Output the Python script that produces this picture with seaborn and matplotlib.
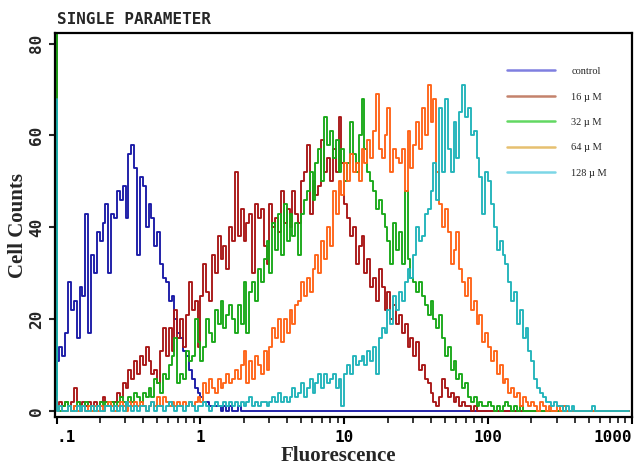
import matplotlib
matplotlib.use("Agg")
import matplotlib.pyplot as plt
from matplotlib.lines import Line2D
from matplotlib.ticker import LogLocator, NullFormatter
from matplotlib.font_manager import FontProperties
import numpy as np
import pandas as pd
import seaborn as sns

# ---------------- data ----------------
sample_names = ["control", "16 \u00b5 M", "32 \u00b5 M", "64 \u00b5 M", "128 \u00b5 M"]
line_colors = ["#1a1aa6", "#a81616", "#18a818", "#ff6418", "#22b4ba"]
legend_colors = ["#7f7fe0", "#c4826c", "#62d862", "#e6c070", "#7cd6e6"]

x_tick_values = [0.1, 1, 10, 100, 1000]
x_tick_labels = [".1", "1", "10", "100", "1000"]
y_tick_values = [0, 20, 40, 60, 80]
y_tick_labels = ["0", "20", "40", "60", "80"]

channels_per_decade = 50
first_channel = 0.1

control_counts = [
    13, 11, 14, 12, 17, 28, 22, 24, 16, 27,
    25, 43, 17, 34, 30, 39, 37, 41, 45, 30,
    43, 42, 48, 46, 49, 42, 56, 58, 53, 34,
    51, 49, 40, 45, 42, 36, 39, 32, 29, 28,
    24, 25, 20, 17, 16, 13, 12, 9, 7, 5,
    4, 3, 2, 2, 1, 1, 1, 1, 0, 1,
    0, 1, 0, 0, 1, 0, 0, 0, 0, 0,
    0, 0, 0, 0, 0, 0, 0, 0, 0, 0,
    0, 0, 0, 0, 0, 0, 0, 0, 0, 0,
    0, 0, 0, 0, 0, 0, 0, 0, 0, 0,
    0, 0, 0, 0, 0, 0, 0, 0, 0, 0,
    0, 0, 0, 0, 0, 0, 0, 0, 0, 0,
    0, 0, 0, 0, 0, 0, 0, 0, 0, 0,
    0, 0, 0, 0, 0, 0, 0, 0, 0, 0,
    0, 0, 0, 0, 0, 0, 0, 0, 0, 0,
    0, 0, 0, 0, 0, 0, 0, 0, 0, 0,
    0, 0, 0, 0, 0, 0, 0, 0, 0, 0,
    0, 0, 0, 0, 0, 0, 0, 0, 0, 0,
    0, 0, 0, 0, 0, 0, 0, 0, 0, 0,
    0, 0, 0, 0, 0, 0, 0, 0, 0, 0,
]

um16_counts = [
    90, 1, 2, 1, 2, 1, 2, 5, 2, 1,
    2, 1, 2, 1, 2, 1, 2, 3, 2, 1,
    2, 2, 4, 3, 6, 5, 9, 7, 11, 8,
    12, 10, 14, 11, 8, 9, 6, 13, 18, 12,
    18, 13, 22, 16, 20, 14, 21, 28, 22, 24,
    14, 25, 32, 26, 24, 34, 30, 38, 33, 36,
    31, 40, 37, 52, 38, 44, 37, 41, 43, 30,
    45, 42, 44, 36, 32, 45, 40, 42, 39, 48,
    41, 44, 40, 48, 43, 41, 50, 52, 58, 43,
    50, 47, 49, 59, 52, 55, 50, 57, 52, 64,
    54, 45, 42, 38, 40, 32, 36, 38, 30, 33,
    27, 29, 24, 31, 27, 22, 26, 20, 23, 19,
    21, 17, 19, 14, 16, 12, 15, 9, 10, 7,
    6, 4, 2, 1, 3, 7, 5, 3, 4, 2,
    3, 1, 2, 1, 1, 0, 1, 0, 0, 0,
    0, 0, 0, 0, 0, 0, 0, 0, 0, 0,
    0, 0, 0, 0, 0, 0, 0, 0, 0, 0,
    0, 0, 0, 0, 0, 0, 0, 0, 0, 0,
    0, 0, 0, 0, 0, 0, 0, 0, 0, 0,
    0, 0, 0, 0, 0, 0, 0, 0, 0, 0,
]

um32_counts = [
    95, 1, 0, 1, 2, 1, 0, 1, 2, 1,
    1, 2, 1, 0, 1, 1, 2, 1, 2, 1,
    2, 1, 2, 3, 2, 1, 3, 2, 4, 3,
    2, 4, 3, 5, 3, 7, 6, 4, 8, 7,
    10, 12, 16, 6, 8, 7, 13, 11, 12, 20,
    15, 11, 14, 20, 17, 15, 22, 19, 24, 18,
    21, 23, 20, 17, 23, 19, 28, 17, 26, 28,
    24, 31, 28, 33, 37, 30, 41, 35, 43, 34,
    45, 37, 43, 38, 41, 34, 43, 46, 48, 52,
    46, 54, 57, 50, 64, 58, 61, 55, 59, 52,
    57, 50, 54, 63, 56, 52, 60, 68, 57, 52,
    50, 48, 44, 46, 43, 40, 37, 32, 41, 35,
    39, 32, 48, 33, 29, 28, 26, 28, 25, 23,
    21, 24, 20, 18, 21, 16, 12, 14, 9, 11,
    7, 8, 5, 6, 3, 2, 3, 1, 2, 1,
    1, 2, 1, 0, 1, 0, 1, 2, 1, 0,
    1, 0, 1, 0, 0, 0, 0, 0, 0, 0,
    0, 0, 0, 0, 0, 0, 0, 0, 0, 0,
    0, 0, 0, 0, 0, 0, 0, 0, 0, 0,
    0, 0, 0, 0, 0, 0, 0, 0, 0, 0,
]

um64_counts = [
    3, 0, 1, 0, 0, 1, 0, 1, 0, 0,
    1, 0, 1, 0, 1, 0, 1, 0, 1, 2,
    1, 0, 1, 2, 1, 0, 2, 1, 2, 1,
    2, 1, 0, 1, 2, 1, 3, 1, 3, 2,
    1, 2, 1, 2, 1, 2, 1, 2, 1, 2,
    3, 2, 6, 4, 7, 5, 4, 7, 5, 6,
    8, 6, 7, 9, 7, 10, 13, 6, 11, 7,
    12, 10, 8, 13, 9, 14, 18, 16, 20, 15,
    20, 17, 22, 19, 23, 24, 28, 25, 29, 26,
    31, 34, 30, 37, 33, 40, 36, 48, 43, 50,
    47, 54, 50, 56, 52, 54, 50, 57, 54, 59,
    55, 61, 69, 57, 55, 60, 66, 52, 57, 55,
    54, 57, 48, 61, 53, 58, 63, 57, 66, 60,
    71, 63, 68, 52, 45, 40, 44, 39, 32, 35,
    39, 31, 28, 25, 29, 22, 24, 19, 21, 15,
    17, 14, 11, 13, 8, 10, 6, 7, 4, 5,
    3, 4, 1, 3, 2, 1, 2, 1, 0, 2,
    1, 0, 1, 0, 0, 1, 0, 1, 0, 0,
    0, 0, 0, 0, 0, 0, 0, 0, 0, 0,
    0, 0, 0, 0, 0, 0, 0, 0, 0, 0,
]

um128_counts = [
    68, 0, 1, 0, 0, 1, 0, 0, 1, 0,
    1, 0, 0, 1, 0, 1, 0, 0, 1, 1,
    0, 1, 0, 1, 0, 2, 1, 0, 1, 0,
    1, 1, 0, 1, 2, 0, 1, 1, 0, 1,
    2, 1, 0, 1, 1, 0, 1, 2, 1, 0,
    1, 1, 2, 1, 0, 1, 2, 1, 1, 2,
    1, 2, 1, 2, 1, 2, 1, 2, 3, 1,
    2, 1, 2, 2, 1, 2, 3, 2, 4, 2,
    3, 2, 3, 5, 3, 4, 6, 3, 5, 7,
    4, 6, 8, 5, 8, 6, 7, 8, 5, 7,
    1, 8, 10, 8, 12, 10, 11, 12, 10, 13,
    11, 14, 8, 16, 18, 17, 22, 19, 25, 22,
    26, 24, 28, 31, 29, 34, 40, 37, 38, 43,
    44, 48, 54, 46, 66, 52, 68, 57, 52, 63,
    55, 65, 71, 64, 66, 60, 61, 55, 51, 43,
    52, 50, 45, 40, 35, 37, 34, 32, 28, 24,
    26, 19, 22, 16, 18, 13, 11, 7, 5, 4,
    3, 2, 2, 1, 2, 1, 1, 0, 1, 0,
    1, 0, 0, 0, 0, 0, 0, 1, 0, 0,
    0, 0, 0, 0, 0, 0, 0, 0, 0, 0,
]

series_counts = [control_counts, um16_counts, um32_counts, um64_counts, um128_counts]

# ---------------- tidy table ----------------
frames = []
for name, counts in zip(sample_names, series_counts):
    n = len(counts)
    fluor = first_channel * 10 ** (np.arange(n) / channels_per_decade)
    frames.append(pd.DataFrame({"Fluorescence": fluor, "Counts": counts, "Sample": name}))
df = pd.concat(frames, ignore_index=True)

# ---------------- figure ----------------
sns.set_style("ticks")
plt.rcParams["font.family"] = ["DejaVu Sans"]

W, H = 634, 466
fig = plt.figure(figsize=(W / 100, H / 100), dpi=100)
ax = fig.add_axes([55 / W, 49 / H, 577 / W, 384 / H])

sns.lineplot(
    data=df, x="Fluorescence", y="Counts", hue="Sample",
    hue_order=sample_names, palette=dict(zip(sample_names, line_colors)),
    estimator=None, sort=False, drawstyle="steps-pre",
    linewidth=1.35, legend=False, ax=ax,
)

ax.set_xscale("log")
ax.set_xlim(0.0976, 1000)
ax.set_ylim(-1.3, 82.3)
ax.set_xlabel("")
ax.set_ylabel("")

mono = FontProperties(family="DejaVu Sans Mono", weight="bold", size=11.5)
ax.set_xticks(x_tick_values)
ax.set_xticklabels(x_tick_labels, fontproperties=mono)
ax.xaxis.set_minor_locator(LogLocator(base=10, subs=range(2, 10), numticks=20))
ax.xaxis.set_minor_formatter(NullFormatter())
xl = ax.get_xticklabels()
xl[0].set_ha("left")
xl[-1].set_ha("right")

ax.set_yticks(y_tick_values)
ax.set_yticklabels(y_tick_labels, fontproperties=mono, rotation=90, va="center")

ax.tick_params(axis="x", which="major", direction="out", length=5, width=1.5,
               pad=4, colors="black", bottom=True, top=False)
ax.tick_params(axis="x", which="minor", direction="out", length=4, width=1.3,
               bottom=True, top=False)
ax.tick_params(axis="y", which="major", direction="out", length=4, width=1.5,
               pad=4, left=True, right=False)

for side in ["left", "right", "top", "bottom"]:
    ax.spines[side].set_visible(True)
    ax.spines[side].set_linewidth(1.6)
    ax.spines[side].set_color("black")

# legend
handles = [Line2D([], [], color=c, lw=1.8) for c in legend_colors]
ax.legend(handles, sample_names, loc="upper left", bbox_to_anchor=(0.783, 0.912),
          frameon=False, prop=FontProperties(family="Liberation Serif", size=7.5),
          handlelength=4.6, handletextpad=1.6, labelspacing=1.55,
          borderaxespad=0, borderpad=0)

# texts
fig.text(57 / W, 1 - 19 / H, "SINGLE PARAMETER", ha="left", va="center",
         family="DejaVu Sans Mono", weight="bold", size=11.5)
fig.text(18 / W, 1 - 226 / H, "Cell Counts", ha="center", va="center", rotation=90,
         family="Liberation Serif", weight="bold", size=15)
fig.text(338 / W, 1 - 456 / H, "Fluorescence", ha="center", va="center",
         family="Liberation Serif", weight="bold", size=15)

fig.savefig("out.png", dpi=100)
